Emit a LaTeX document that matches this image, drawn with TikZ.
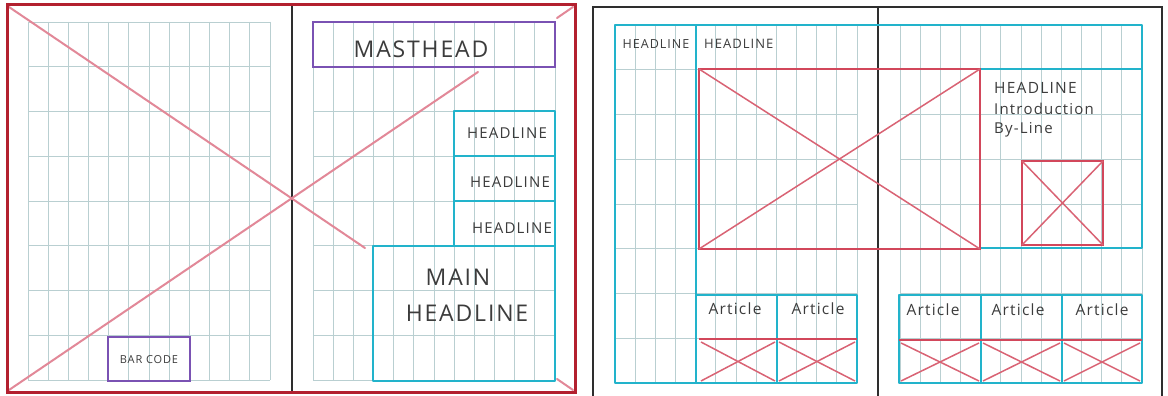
\documentclass[tikz,border=0pt]{standalone}
\usepackage{fontspec}
\newfontfamily\hand[LetterSpace=8]{Open Sans}
\usepackage{tikz}
\usetikzlibrary{positioning}
\definecolor{cGrid}{HTML}{B9CFD1}
\definecolor{cInk}{HTML}{3C3C3C}
\definecolor{cFold}{HTML}{2E2E2E}
\definecolor{cCover}{HTML}{B3202F}
\definecolor{cRed}{HTML}{D2475B}
\definecolor{cPink}{HTML}{E28898}
\definecolor{cCyan}{HTML}{22B3CB}
\definecolor{cPurple}{HTML}{7A52B3}

\begin{document}
\begin{tikzpicture}[x=1pt, y=-1pt,
  gridln/.style={cGrid, line width=0.8pt},
  fold/.style={cFold, line width=1.3pt},
  cover/.style={cCover, line width=3pt},
  cross/.style={cPink, line width=2pt, line cap=round},
  mast/.style={cPurple, line width=2pt},
  hdbox/.style={cCyan, line width=2.4pt, line join=round},
  imgbox/.style={cRed, line width=2.4pt},
  imgx/.style={cRed!85, line width=1.5pt},
  hw/.style={font=\hand\fontsize{#1}{#1}\selectfont, text=cInk, inner sep=0pt}]

  \useasboundingbox (0,0) rectangle (1168,396);
  \fill[white] (0,0) rectangle (1168,396);

  % page grids, 12 x 8 cells each
  \foreach \gx/\gy in {28/22, 313/22, 615/25, 900/25} {
    \foreach \i in {0,...,12}
      \draw[gridln] (\gx+\i*20.17, \gy) -- (\gx+\i*20.17, \gy+358);
    \foreach \j in {0,...,8}
      \draw[gridln] (\gx, \gy+\j*44.75) -- (\gx+242, \gy+\j*44.75);
  }

  % left spread: cover
  \draw[fold] (7,5) rectangle (575,392);
  \draw[fold] (292,5) -- (292,392);
  \draw[cross] (9,7) -- (365,248);
  \draw[cross] (557,379) -- (573,390);
  \draw[cross] (9,390) -- (478,72);
  \draw[cross] (557,18) -- (573,7);
  \draw[cover] (7,5) rectangle (575,392);

  \draw[mast] (313,22) rectangle (555,67);
  \node[hw=23] (masthead) at (421,49) {MASTHEAD};

  \draw[hdbox] (454,111) rectangle (555,246);
  \draw[hdbox] (454,156) -- (555,156);
  \draw[hdbox] (454,201) -- (555,201);
  \node[hw=15] (hlOne) at (507,133) {HEADLINE};
  \node[hw=15] (hlTwo) at (510,182) {HEADLINE};
  \node[hw=15] (hlThree) at (512,228) {HEADLINE};

  \draw[hdbox] (373,246) rectangle (555,381);
  \node[hw=23] (mainA) at (458,277) {MAIN};
  \node[hw=23] (mainB) at (467,313) {HEADLINE};

  \draw[mast] (108,337) rectangle (190,381);
  \node[hw=11] (barcode) at (149,360) {BAR CODE};

  % right spread: inside pages
  \draw[fold] (593,7) rectangle (1162,402);
  \draw[fold] (878,7) -- (878,402);

  \draw[hdbox] (696,383) -- (615,383) -- (615,25) -- (1142,25) -- (1142,248)
    -- (980,248) -- (980,69) -- (1142,69);
  \draw[hdbox] (696,25) -- (696,383);
  \node[hw=12.5] (hlLeft) at (656,44) {HEADLINE};
  \node[hw=13, anchor=west] (hlTop) at (704,44) {HEADLINE};

  \draw[imgbox] (699,69) rectangle (980,249);
  \draw[imgx] (699,69) -- (980,249);
  \draw[imgx] (699,249) -- (980,69);

  \node[hw=15.5, anchor=west] (hlSide) at (994,88) {HEADLINE};
  \node[hw=15, anchor=west] (intro) at (994,109) {Introduction};
  \node[hw=15, anchor=west] (byline) at (994,130) {By-Line};
  \draw[imgbox] (1022,161) rectangle (1103,245);
  \draw[imgx] (1022,161) -- (1103,245);
  \draw[imgx] (1022,245) -- (1103,161);

  % article rows
  \draw[hdbox] (696,295) rectangle (857,383);
  \draw[hdbox] (777,295) -- (777,383);
  \draw[hdbox] (899,295) rectangle (1142,383);
  \draw[hdbox] (981,295) -- (981,383);
  \draw[hdbox] (1062,295) -- (1062,383);
  \draw[imgbox] (699,339) -- (857,339);
  \draw[imgbox] (899,340) -- (1142,340);
  \foreach \xa/\xb/\ya in {699/777/339, 777/857/339, 899/981/340, 981/1062/340, 1062/1142/340} {
    \draw[imgx] (\xa+2,\ya+3) -- (\xb-2,381);
    \draw[imgx] (\xa+2,381) -- (\xb-2,\ya+3);
  }
  \foreach \ax/\ay/\nm in {735/309/artA, 818/309/artB, 933/310/artC, 1018/310/artD, 1102/310/artE}
    \node[hw=15.5] (\nm) at (\ax,\ay) {Article};
\end{tikzpicture}
\end{document}
